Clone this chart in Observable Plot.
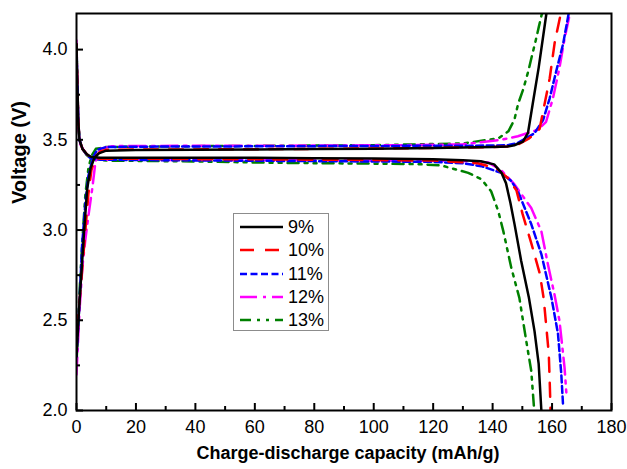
<!DOCTYPE html>
<html><head><meta charset="utf-8">
<script src="https://cdn.jsdelivr.net/npm/d3@7"></script>
<script src="https://cdn.jsdelivr.net/npm/@observablehq/plot@0.6"></script>
<style>
body{margin:0;background:#fff;}
#wrap{position:relative;width:627px;height:469px;font-family:"Liberation Sans",Arial,sans-serif;}
#legend{position:absolute;left:233px;top:213px;width:96px;height:118px;border:1px solid #8c8c8c;background:#fff;box-sizing:border-box;}
.row{position:absolute;left:6px;height:20px;line-height:20px;font-size:18px;color:#000;white-space:nowrap;}
.row svg{position:absolute;left:0;top:5px;}
.row span{position:absolute;left:48px;top:0;}
</style></head>
<body><div id="wrap"></div>
<script>
// ---- data (capacity mAh/g, voltage V) ----
const seriesNames = ["9%","10%","11%","12%","13%"];
const seriesColors = ["#000000","#ff0000","#0000ff","#ff00ff","#008000"];
const seriesDash = [null,"14,11","7,3.5","17,6,3,6","11,6,3,6,3,6"];

const charge9 = [[0,2.3],[1,2.6],[2,2.85],[2.5,2.98],[3.6,3.23],[4.7,3.34],[6,3.40],[7.5,3.425],[10,3.44],[20,3.443],[40,3.445],[60,3.447],[80,3.449],[100,3.451],[120,3.454],[140,3.46],[145,3.463],[147.3,3.47],[150.2,3.49],[151.9,3.538],[153.5,3.7],[155.5,3.9],[158.1,4.2]];
const discharge9 = [[0,4.03],[0.3,3.8],[0.6,3.6],[1,3.5],[2,3.45],[3.5,3.42],[5,3.405],[8,3.40],[20,3.40],[40,3.40],[60,3.40],[80,3.398],[100,3.396],[120,3.392],[130,3.387],[136,3.381],[140.5,3.364],[142.9,3.32],[144.5,3.26],[146,3.15],[147.4,3.03],[149.6,2.83],[152.2,2.626],[154.1,2.44],[155.5,2.258],[156.4,2.0]];

const charge10 = [[0,2.45],[1,2.6],[2,2.8],[3,3.0],[4,3.2],[5,3.33],[6.5,3.41],[8,3.435],[10,3.445],[20,3.446],[40,3.447],[60,3.448],[80,3.45],[100,3.452],[120,3.455],[140,3.46],[145,3.463],[148.6,3.475],[152,3.505],[154,3.53],[155.8,3.56],[157.5,3.70],[159.2,3.84],[160.9,4.04],[162.5,4.166],[163,4.2]];
const discharge10 = [[0,4.03],[0.3,3.8],[0.6,3.6],[1,3.5],[2,3.45],[3.5,3.42],[5,3.40],[8,3.395],[20,3.395],[40,3.393],[60,3.392],[80,3.39],[100,3.388],[120,3.385],[135,3.37],[141.2,3.343],[145,3.29],[148,3.221],[150.1,3.088],[153,2.928],[155.9,2.757],[157.2,2.619],[158.9,2.315],[159.2,2.166],[159.5,2.0]];

const charge11 = [[0,2.3],[1,2.6],[1.9,2.92],[3,3.15],[4,3.3],[5.5,3.4],[7,3.445],[10,3.46],[20,3.462],[40,3.463],[60,3.464],[80,3.465],[100,3.466],[120,3.467],[140,3.468],[145,3.47],[148.5,3.483],[154,3.535],[157,3.61],[159.2,3.73],[161.4,3.88],[163.7,4.03],[165.6,4.2]];
const discharge11 = [[0,4.03],[0.3,3.8],[0.6,3.6],[1,3.5],[2,3.45],[3.5,3.415],[5,3.395],[8,3.39],[20,3.388],[40,3.386],[60,3.384],[80,3.382],[100,3.38],[120,3.378],[130,3.37],[136.2,3.354],[142.9,3.317],[146.3,3.271],[148.5,3.215],[153,3.033],[156.4,2.867],[159.8,2.624],[162,2.425],[163.1,2.204],[163.7,2.03]];

const charge12 = [[0,2.2],[1,2.55],[2,2.8],[3,2.95],[4.1,3.09],[5.3,3.23],[6.4,3.38],[8.1,3.45],[12,3.465],[40,3.467],[80,3.468],[110,3.47],[130,3.475],[142.9,3.50],[148.5,3.52],[155.3,3.556],[158,3.60],[160.3,3.73],[162.5,3.9],[164.2,4.06],[166,4.2]];
const discharge12 = [[0,4.05],[0.3,3.8],[0.7,3.55],[1.3,3.475],[2.5,3.44],[4,3.41],[6,3.395],[10,3.39],[40,3.388],[80,3.386],[110,3.385],[130,3.383],[138.5,3.375],[143,3.33],[147.3,3.254],[153,3.122],[156.4,2.994],[158.6,2.81],[160.8,2.644],[162.5,2.497],[164.2,2.238],[164.8,2.1]];

const charge13 = [[0,2.26],[1,2.65],[2,2.95],[3,3.2],[4,3.34],[5,3.41],[6.5,3.45],[10,3.46],[40,3.465],[70,3.467],[100,3.47],[130,3.48],[138.5,3.50],[141.9,3.508],[145.3,3.547],[147.3,3.61],[148.6,3.70],[150.3,3.78],[152,3.88],[153.3,3.97],[154.5,4.05],[155.6,4.13],[156.6,4.2]];
const discharge13 = [[0,4.03],[0.3,3.8],[0.6,3.6],[1,3.5],[2,3.45],[3.5,3.415],[5,3.395],[10,3.385],[40,3.38],[70,3.372],[100,3.368],[115,3.365],[122.7,3.358],[131.8,3.317],[136.2,3.282],[139.5,3.215],[141.9,3.105],[143.6,2.994],[146.3,2.79],[149,2.624],[151.3,2.387],[153,2.22],[154,2.0]];

const chargeCurves = [charge9, charge10, charge11, charge12, charge13];
const dischargeCurves = [discharge9, discharge10, discharge11, discharge12, discharge13];

const xTicks = [0,20,40,60,80,100,120,140,160,180];
const xMinor = [10,30,50,70,90,110,130,150,170];
const yTicks = [2.0,2.5,3.0,3.5,4.0];
const yMinor = [2.25,2.75,3.25,3.75];

// ---- chart ----
const W = 627, H = 469, mL = 76, mR = 16, mT = 13, mB = 59;
const innerW = W - mL - mR, innerH = H - mT - mB;

const lineMarks = [];
seriesNames.forEach((name, i) => {
  [chargeCurves[i], dischargeCurves[i]].forEach(curve => {
    lineMarks.push(Plot.line(curve, {
      x: d => d[0], y: d => d[1],
      stroke: seriesColors[i], strokeWidth: 2.5,
      strokeDasharray: seriesDash[i] || undefined,
      clip: true
    }));
  });
});

const chart = Plot.plot({
  width: W, height: H,
  marginLeft: mL, marginRight: mR, marginTop: mT, marginBottom: mB,
  x: {domain: [0, 180]},
  y: {domain: [2, 4.2]},
  style: {fontFamily: "'Liberation Sans', Arial, sans-serif", fontSize: "18px", color: "#000", background: "#fff"},
  marks: [
    ...lineMarks.reverse(),
    Plot.gridX({ticks: xTicks, stroke: "#000", strokeOpacity: 1, strokeWidth: 2, insetTop: innerH - 7}),
    Plot.gridX({ticks: xMinor, stroke: "#000", strokeOpacity: 1, strokeWidth: 2, insetTop: innerH - 4}),
    Plot.gridY({ticks: yTicks, stroke: "#000", strokeOpacity: 1, strokeWidth: 2, insetRight: innerW - 7}),
    Plot.gridY({ticks: yMinor, stroke: "#000", strokeOpacity: 1, strokeWidth: 2, insetRight: innerW - 4}),
    Plot.frame({stroke: "#000", strokeWidth: 2}),
    Plot.axisX({ticks: xTicks, tickSize: 0, tickPadding: 10, label: null, fontSize: 18}),
    Plot.axisY({ticks: yTicks, tickSize: 0, tickPadding: 9, tickFormat: d3.format(".1f"), label: null, fontSize: 18}),
    Plot.text(["Charge-discharge capacity (mAh/g)"], {frameAnchor: "bottom", dx: 4, dy: 48, fontWeight: "bold", fontSize: 18}),
    Plot.text(["Voltage (V)"], {frameAnchor: "left", dx: -57, dy: -8, rotate: -90, fontWeight: "bold", fontSize: 20})
  ]
});

const wrap = document.getElementById("wrap");
wrap.appendChild(chart);

// legend
const legend = document.createElement("div");
legend.id = "legend";
const rowCenters = [14, 37, 61, 84, 107];
seriesNames.forEach((name, i) => {
  const row = document.createElement("div");
  row.className = "row";
  row.style.top = (rowCenters[i] - 11) + "px";
  const dash = seriesDash[i] ? ` stroke-dasharray="${seriesDash[i]}"` : "";
  row.innerHTML = `<svg width="44" height="10"><line x1="0" x2="43" y1="5" y2="5" stroke="${seriesColors[i]}" stroke-width="2.5"${dash}/></svg><span>${name}</span>`;
  legend.appendChild(row);
});
wrap.appendChild(legend);
</script>
</body></html>
